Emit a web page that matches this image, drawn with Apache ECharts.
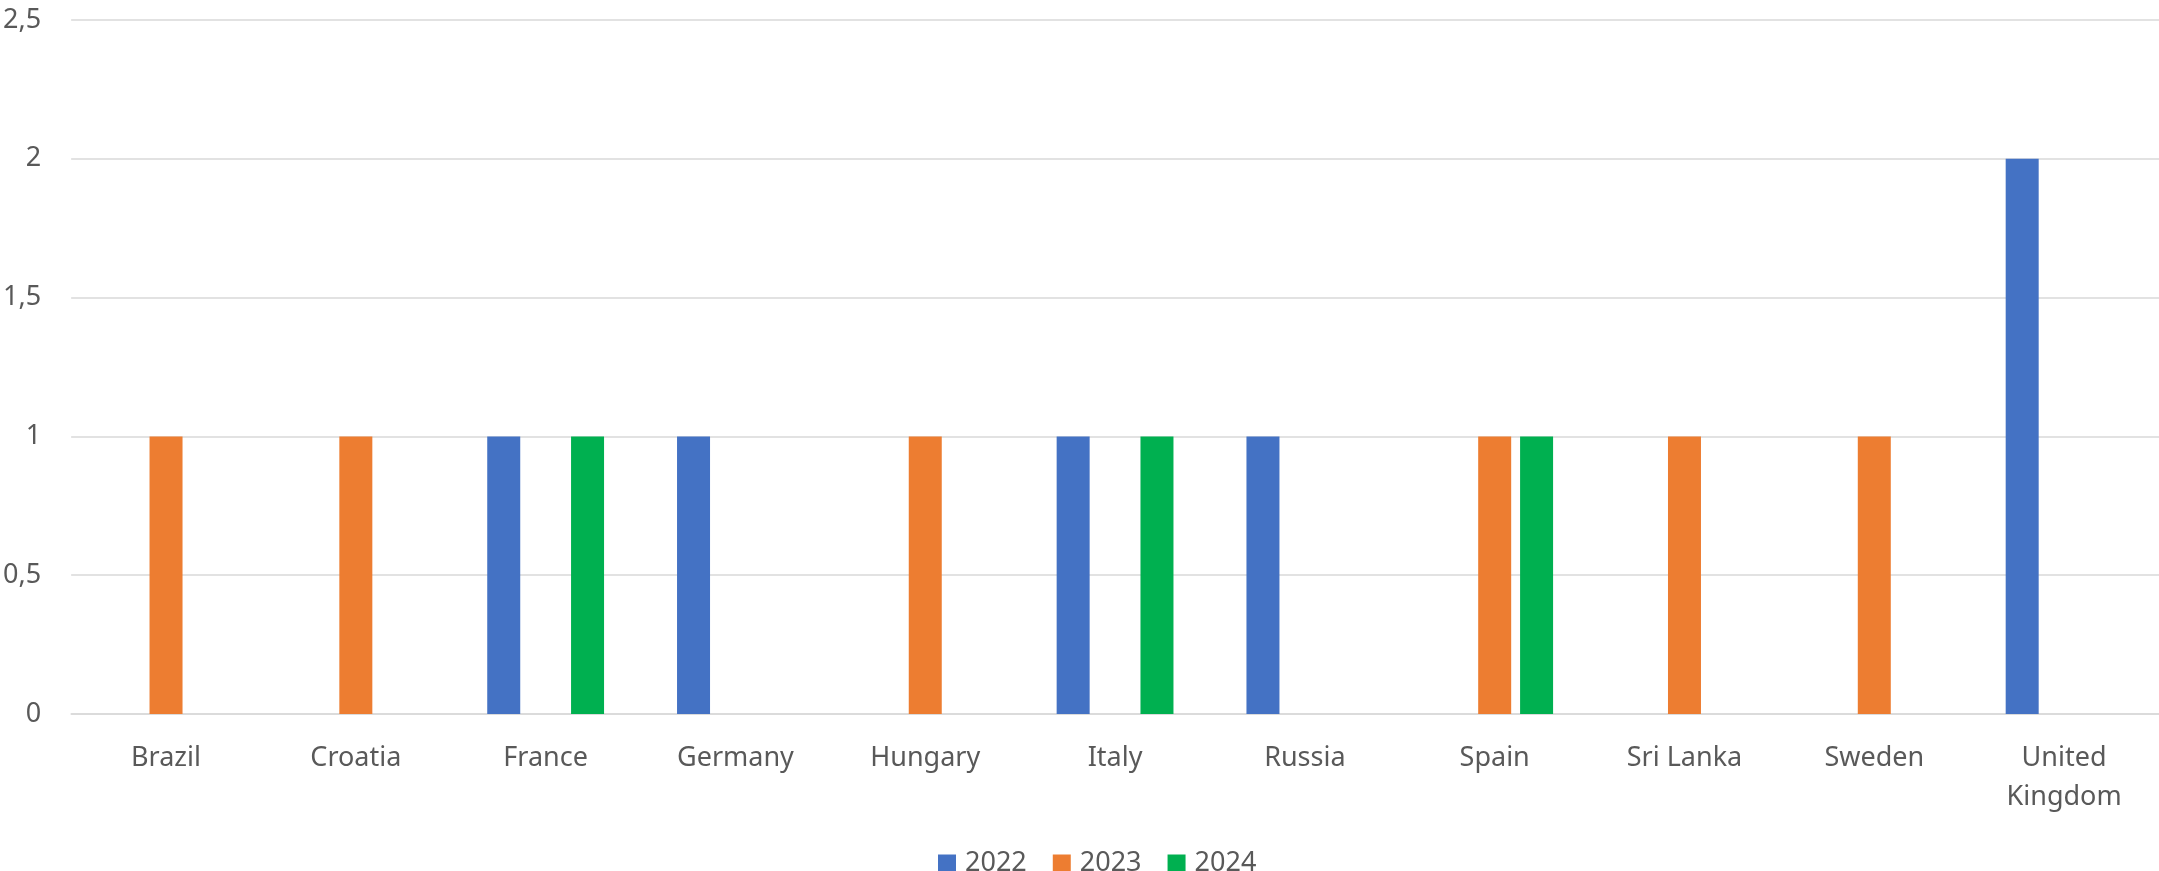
<!DOCTYPE html>
<html>
<head>
<meta charset="utf-8">
<script src="https://cdn.jsdelivr.net/npm/echarts@6/dist/echarts.min.js"></script>
<style>
html,body{margin:0;padding:0;background:#fff;}
#chart{width:2159px;height:871px;}
</style>
</head>
<body>
<div id="chart"></div>
<script>
const categories = ['Brazil','Croatia','France','Germany','Hungary','Italy','Russia','Spain','Sri Lanka','Sweden','United\nKingdom'];
const seriesNames = ['2022','2023','2024'];
const values2022 = [null,null,1,1,null,1,1,null,null,null,2];
const values2023 = [1,1,null,null,1,null,null,1,1,1,null];
const values2024 = [null,null,1,null,null,1,null,1,null,null,null];
const yTickLabels = ['0','0,5','1','1,5','2','2,5'];
const colors = ['#4472C4','#ED7D31','#00B050'];

const chart = echarts.init(document.getElementById('chart'), null, {renderer:'canvas'});
const font = 'Noto Sans';
const textColor = '#595959';
const allValues = [values2022, values2023, values2024];
chart.setOption({
  animation:false,
  backgroundColor:'#fff',
  color: colors,
  grid:{left:70,right:-3,top:20,bottom:157,containLabel:false},
  legend:{
    data: seriesNames,
    left:933, top:845,
    icon:'rect', itemWidth:18, itemHeight:18, itemGap:26,
    textStyle:{fontFamily:font,fontSize:27,color:textColor,padding:[0,0,0,4]}
  },
  xAxis:{
    type:'category',
    data:categories,
    axisTick:{show:false},
    axisLine:{lineStyle:{color:'#D9D9D9',width:1.5}},
    axisLabel:{fontFamily:font,fontSize:27,color:textColor,margin:25,lineHeight:39,interval:0}
  },
  yAxis:{
    type:'value',min:0,max:2.5,interval:0.5,
    axisLine:{show:false},axisTick:{show:false},
    splitLine:{lineStyle:{color:'#D9D9D9',width:1.5}},
    axisLabel:{fontFamily:font,fontSize:27,color:textColor,margin:30,
      formatter:(v,i)=>yTickLabels[i]}
  },
  series: seriesNames.map((n,k)=>({
    name:n,type:'bar',data:allValues[k],barWidth:33,barGap:'27%'
  }))
});
</script>
</body>
</html>
